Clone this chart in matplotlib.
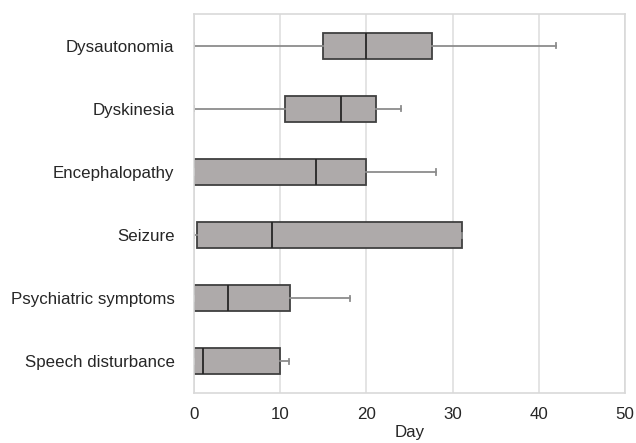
import matplotlib.pyplot as plt

# values (days)
symptoms = ["Dysautonomia", "Dyskinesia", "Encephalopathy", "Seizure",
            "Psychiatric symptoms", "Speech disturbance"]
whisker_lo = [0, 0, 0, 0, 0, 0]
q1 = [15.0, 10.5, 0, 0.4, 0, 0]
median = [20.0, 17.0, 14.1, 9.0, 4.0, 1.0]
q3 = [27.6, 21.1, 20.0, 31.1, 11.1, 10.0]
whisker_hi = [42.0, 24.0, 28.1, 31.1, 18.1, 11.0]
x_ticks = [0, 10, 20, 30, 40, 50]


def main():
    plt.rcParams['font.family'] = ['Liberation Sans', 'DejaVu Sans']
    fig = plt.figure(figsize=(6.36, 4.43), dpi=100)
    ax = fig.add_axes([0.305, 0.113, 0.678, 0.855])

    stats = []
    for i in range(len(symptoms)):
        stats.append({
            "label": symptoms[i],
            "whislo": whisker_lo[i],
            "q1": q1[i],
            "med": median[i],
            "q3": q3[i],
            "whishi": whisker_hi[i],
            "fliers": [],
        })

    # top category first
    positions = list(range(len(symptoms), 0, -1))
    ax.bxp(stats, positions=positions, vert=False, widths=0.41,
           patch_artist=True, showfliers=False,
           boxprops=dict(facecolor="#aeaaaa", edgecolor="#404040", linewidth=1.3),
           medianprops=dict(color="#262626", linewidth=1.3),
           whiskerprops=dict(color="#8c8c8c", linewidth=1.3),
           capprops=dict(color="#8c8c8c", linewidth=1.3),
           capwidths=0.08)

    ax.set_xlim(0, 50)
    ax.set_ylim(0.5, len(symptoms) + 0.5)
    ax.set_xticks(x_ticks)
    ax.set_xticklabels([str(t) for t in x_ticks], fontsize=12.2, color="#262626")
    ax.tick_params(axis="y", labelsize=12.2, labelcolor="#262626", length=0, pad=14)
    ax.tick_params(axis="x", length=0, pad=10)
    ax.set_xlabel("Day", fontsize=12.2, color="#262626", labelpad=2)

    ax.grid(axis="x", color="#dcdcdc", linewidth=1.1)
    ax.set_axisbelow(True)
    for side in ["top", "right", "left", "bottom"]:
        ax.spines[side].set_color("#d9d9d9")
        ax.spines[side].set_linewidth(1.2)

    fig.savefig("out.png", dpi=100)


if __name__ == "__main__":
    main()
